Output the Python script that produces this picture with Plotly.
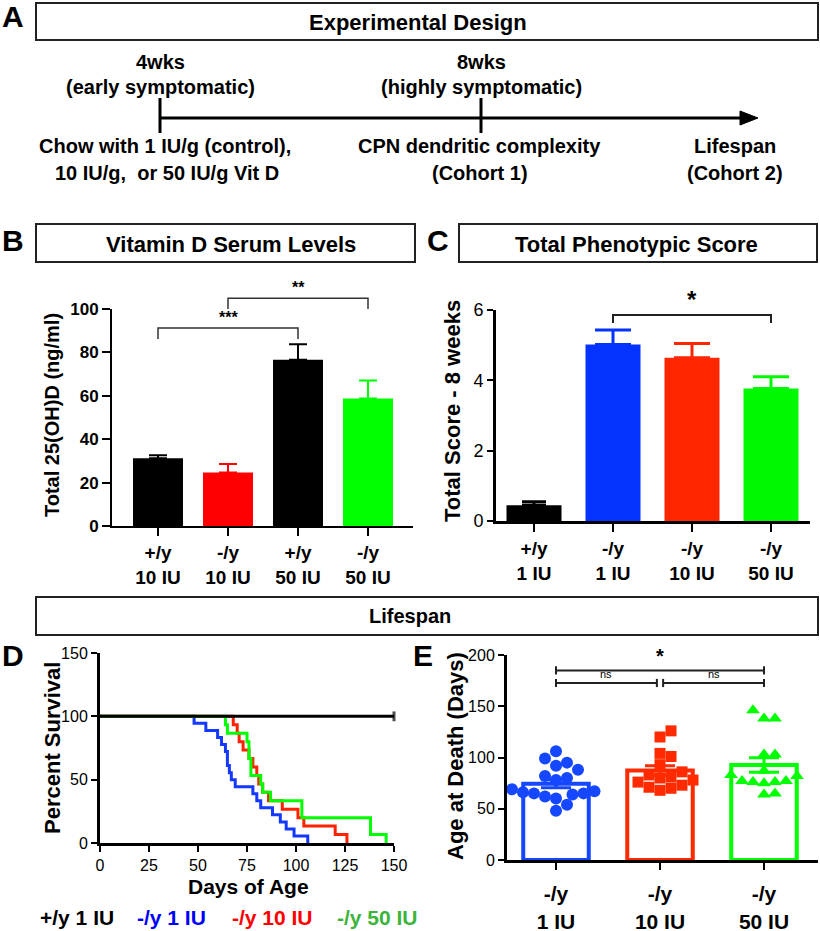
import numpy as np
import plotly.graph_objects as go

W, H = 820, 931
FONT = "Liberation Sans, Arial, Helvetica, sans-serif"

# ---------------- DATA ----------------
# Panel B: Vitamin D serum levels (mean, SEM)
vitd_labels = ["+/y<br>10 IU", "-/y<br>10 IU", "+/y<br>50 IU", "-/y<br>50 IU"]
vitd_mean = [31.2, 24.6, 76.6, 58.8]
vitd_sem = [1.4, 4.0, 7.1, 8.2]
vitd_colors = ["#000000", "#ff0000", "#000000", "#00ff00"]
vitd_ticks = [0, 20, 40, 60, 80, 100]

# Panel C: total phenotypic score at 8 weeks (mean, SEM)
score_labels = ["+/y<br>1 IU", "-/y<br>1 IU", "-/y<br>10 IU", "-/y<br>50 IU"]
score_mean = [0.45, 5.02, 4.64, 3.77]
score_sem = [0.10, 0.41, 0.41, 0.33]
score_colors = ["#000000", "#0433ff", "#ff2600", "#00f900"]
score_ticks = [0, 2, 4, 6]

# Panels D/E: age at death (days) per mouse
death_ko_1iu = [48, 54, 60, 62, 64, 65, 65, 66, 67, 69, 78, 80, 82, 88, 92, 95, 99, 106]
death_ko_10iu = [68, 70, 71, 73, 76, 78, 80, 81, 83, 86, 93, 101, 104, 120, 126]
death_ko_50iu = [64, 65, 75, 76, 76, 77, 77, 82, 83, 87, 103, 103, 138, 138, 146]
wt_1iu_followup = 150  # all +/y 1 IU mice alive at end of follow-up

surv_labels = ["+/y 1 IU", "-/y 1 IU", "-/y 10 IU", "-/y 50 IU"]
surv_colors = ["#000000", "#1438ff", "#ff2200", "#00ff00"]
surv_legend_colors = ["#000000", "#0000ff", "#ff0000", "#3cb43c"]
surv_xticks = [0, 25, 50, 75, 100, 125, 150]
surv_yticks = [0, 50, 100, 150]

age_labels = ["-/y<br>1 IU", "-/y<br>10 IU", "-/y<br>50 IU"]
age_colors = ["#1447ff", "#ff2a00", "#00ff00"]
age_symbols = ["circle", "square", "triangle-up"]
age_ticks = [0, 50, 100, 150, 200]


# ---------------- helpers ----------------
def xd(px):
    return px / W


def yd(py):
    return 1 - py / H


def km_curve(days):
    d = sorted(days)
    n = len(d)
    xs = [0] + d
    ys = [100.0] + [100.0 * (n - i - 1) / n for i in range(n)]
    return xs, ys


def swarm(vals, xpx, ypx, diam, step):
    vals = np.asarray(vals, float)
    order = np.argsort(vals, kind="stable")
    placed = []
    offs = np.zeros(len(vals))
    for idx in order:
        yv = vals[idx] * ypx
        cand = 0.0
        for k in range(60):
            cand = 0.0 if k == 0 else ((k + 1) // 2) * step * (1 if k % 2 else -1)
            if all((cand - a) ** 2 + (yv - b) ** 2 >= diam ** 2 for a, b in placed):
                break
        placed.append((cand, yv))
        offs[idx] = cand / xpx
    return offs


fig = go.Figure()
ann = []
shapes = []


def text(x, y, s, size, color="black", bold=True, angle=0, xanchor="center", yanchor="middle",
         xref="paper", yref="paper"):
    if xref == "paper":
        x = xd(x)
    if yref == "paper":
        y = yd(y)
    ann.append(dict(x=x, y=y, xref=xref, yref=yref, text=s, showarrow=False, textangle=angle,
                    xanchor=xanchor, yanchor=yanchor,
                    font=dict(family=FONT, size=size, color=color,
                              weight="bold" if bold else "normal")))


def box(x0, y0, x1, y1):
    shapes.append(dict(type="rect", xref="paper", yref="paper", x0=xd(x0), x1=xd(x1),
                       y0=yd(y1), y1=yd(y0), line=dict(color="#222", width=2)))


def pline(x0, y0, x1, y1, w=3):
    shapes.append(dict(type="line", xref="paper", yref="paper", x0=xd(x0), x1=xd(x1),
                       y0=yd(y0), y1=yd(y1), line=dict(color="black", width=w)))


# ---------------- Panel A ----------------
text(13, 16, "A", 30)
box(36, 3, 818, 40)
text(418, 22, "Experimental Design", 22)
pline(160, 118, 745, 118)
pline(160, 98, 160, 133)
pline(481, 98, 481, 133)
shapes.append(dict(type="path", xref="paper", yref="paper",
                   path=f"M {xd(740)},{yd(111)} L {xd(758)},{yd(118)} L {xd(740)},{yd(125)} Z",
                   fillcolor="black", line=dict(color="black", width=1)))
text(160, 62, "4wks", 20)
text(160, 87, "(early symptomatic)", 20)
text(481, 62, "8wks", 20)
text(481, 87, "(highly symptomatic)", 20)
text(165, 146, "Chow with 1 IU/g (control),", 20)
text(167, 173, "10 IU/g,\u00a0 or 50 IU/g Vit D", 20)
text(480, 146, "CPN dendritic complexity", 20)
text(480, 173, "(Cohort 1)", 20)
text(735, 146, "Lifespan", 20)
text(735, 173, "(Cohort 2)", 20)

# ---------------- Panel B ----------------
text(13, 241, "B", 30)
box(36, 224, 415, 262)
text(231, 245, "Vitamin D Serum Levels", 22)
for i in range(len(vitd_mean)):
    fig.add_trace(go.Bar(x=[i], y=[vitd_mean[i]], width=50 / 70, xaxis="x", yaxis="y",
                         marker=dict(color=vitd_colors[i], line=dict(width=0)),
                         error_y=dict(type="data", array=[vitd_sem[i]], arrayminus=[0],
                                      symmetric=False, color=vitd_colors[i], thickness=2, width=9),
                         showlegend=False, hoverinfo="skip"))
# significance brackets (B) on an invisible overlay subplot with identical scale
for (a, b, h, lab) in [(0, 2, 91.2, "***"), (1, 3, 105.0, "**")]:
    fig.add_trace(go.Scatter(x=[a, a, b, b], y=[h - 5, h, h, h - 5], mode="lines",
                             line=dict(color="#333", width=1.5), xaxis="x5", yaxis="y5",
                             showlegend=False, hoverinfo="skip"))
    text((a + b) / 2, h, lab, 16, xref="x5", yref="y5", yanchor="bottom")
text(52, 415, "Total 25(OH)D (ng/ml)", 20, angle=-90)

# ---------------- Panel C ----------------
text(438, 241, "C", 30)
box(459, 224, 817, 262)
text(636, 245, "Total Phenotypic Score", 22)
for i in range(len(score_mean)):
    fig.add_trace(go.Bar(x=[i], y=[score_mean[i]], width=55 / 79, xaxis="x2", yaxis="y2",
                         marker=dict(color=score_colors[i], line=dict(width=0)),
                         error_y=dict(type="data", array=[score_sem[i]], arrayminus=[0],
                                      symmetric=False, color=score_colors[i], thickness=3,
                                      width=18 if i else 12),
                         showlegend=False, hoverinfo="skip"))
fig.add_trace(go.Scatter(x=[1, 1, 3, 3], y=[5.63, 5.86, 5.86, 5.63], mode="lines",
                         line=dict(color="#222", width=2), xaxis="x2", yaxis="y2",
                         showlegend=False, hoverinfo="skip"))
text(2, 5.86, "*", 24, xref="x2", yref="y2", yanchor="bottom")
text(452, 411, "Total Score - 8 weeks", 22, angle=-90)

# ---------------- Lifespan box ----------------
box(36, 597, 818, 635)
text(410, 616, "Lifespan", 20)

# ---------------- Panel D ----------------
text(13, 655, "D", 30)
for days, col in zip([death_ko_1iu, death_ko_10iu, death_ko_50iu], surv_colors[1:]):
    xs, ys = km_curve(days)
    fig.add_trace(go.Scatter(x=xs, y=ys, mode="lines", line=dict(color=col, width=3, shape="hv"),
                             xaxis="x3", yaxis="y3", showlegend=False, hoverinfo="skip"))
fig.add_trace(go.Scatter(x=[0, wt_1iu_followup], y=[100, 100], mode="lines+markers",
                         line=dict(color=surv_colors[0], width=3),
                         marker=dict(symbol="line-ns-open", size=[0, 7],
                                     line=dict(color="black", width=3)),
                         cliponaxis=False, xaxis="x3", yaxis="y3", showlegend=False,
                         hoverinfo="skip"))
text(52, 748, "Percent Survival", 22, angle=-90)
text(248, 886, "Days of Age", 21)
for lab, col, cx in zip(surv_labels, surv_legend_colors, [77, 171, 272, 377]):
    text(cx, 917, lab, 21, color=col)

# ---------------- Panel E ----------------
text(423, 655, "E", 30)
age_data = [death_ko_1iu, death_ko_10iu, death_ko_50iu]
age_mean = [float(np.mean(d)) for d in age_data]
age_sem = [float(np.std(d, ddof=1) / np.sqrt(len(d))) for d in age_data]
fig.add_trace(go.Bar(x=[0, 1, 2], y=age_mean, width=0.63, xaxis="x4", yaxis="y4",
                     marker=dict(color="white", line=dict(color=age_colors, width=4)),
                     showlegend=False, hoverinfo="skip"))
for i, (d, col, sym) in enumerate(zip(age_data, age_colors, age_symbols)):
    offs = swarm(d, 104.0, 1.025, 11.0, 5.5)
    fig.add_trace(go.Scatter(x=i + offs, y=d, mode="markers", xaxis="x4", yaxis="y4",
                             marker=dict(symbol=sym, color=col, size=12 if sym != "square" else 11,
                                         line=dict(width=0)),
                             showlegend=False, hoverinfo="skip"))
    fig.add_trace(go.Scatter(x=[i], y=[age_mean[i]], mode="markers", xaxis="x4", yaxis="y4",
                             marker=dict(size=1, color=col),
                             error_y=dict(type="data", array=[age_sem[i]], color=col,
                                          thickness=3, width=15),
                             showlegend=False, hoverinfo="skip"))
for (a, b, h, lab, sz, bold) in [(0, 2, 185, "*", 20, True), (0, 0.97, 172.7, "ns", 11, False),
                                  (1.03, 2, 172.7, "ns", 11, False)]:
    fig.add_trace(go.Scatter(x=[a, a, None, a, b, None, b, b],
                             y=[h - 4, h + 4, None, h, h, None, h - 4, h + 4], mode="lines",
                             line=dict(color="#222", width=2), xaxis="x4", yaxis="y4",
                             showlegend=False, hoverinfo="skip"))
    text((a + b) / 2, h + 1, lab, sz, bold=bold, xref="x4", yref="y4", yanchor="bottom")
text(455, 756, "Age at Death (Days)", 22, angle=-90)


# ---------------- axes ----------------
def ax(domain, rng, lw, ticklen, tickvals=None, ticktext=None, size=16, bold=False,
       anchor=None, standoff=None, ticks="outside"):
    d = dict(domain=domain, range=rng, showline=True, linewidth=lw, linecolor="black",
             ticks=ticks, ticklen=ticklen, tickwidth=2, tickcolor="black", showgrid=False,
             zeroline=False, fixedrange=True, anchor=anchor, automargin=False,
             tickfont=dict(family=FONT, size=size, color="black",
                           weight="bold" if bold else "normal"))
    if tickvals is not None:
        d["tickmode"] = "array"
        d["tickvals"] = tickvals
    if ticktext is not None:
        d["ticktext"] = ticktext
    if standoff is not None:
        d["ticklabelstandoff"] = standoff
    return d


fig.update_layout(
    width=W, height=H, autosize=False, margin=dict(l=0, r=0, t=0, b=0, pad=0),
    paper_bgcolor="white", plot_bgcolor="rgba(0,0,0,0)", barmode="overlay",
    font=dict(family=FONT, color="black"),
    xaxis=ax([xd(112), xd(413)], [-(158 - 112) / 70, 3 + (413 - 368) / 70], 2, 8,
             list(range(4)), vitd_labels, 19, True, "y"),
    yaxis=ax([yd(526), yd(309)], [0, 100], 2, 8, vitd_ticks, None, 17, True, "x"),
    xaxis2=ax([xd(496), xd(810)], [-(534 - 496) / 79, 3 + (810 - 771) / 79], 3, 8,
              list(range(4)), score_labels, 19, True, "y2"),
    yaxis2=ax([yd(521), yd(310)], [0, 6], 3, 6, score_ticks, None, 18, False, "x2"),
    xaxis3=ax([xd(100), xd(394)], [0, 150], 3, 6, surv_xticks, None, 16, False, "y3"),
    yaxis3=ax([yd(843), yd(653)], [0, 150], 3, 6, surv_yticks, None, 16, False, "x3"),
    xaxis4=ax([xd(507), xd(818)], [-(556 - 507) / 104, 2 + (818 - 764) / 104], 3, 7,
              [0, 1, 2], age_labels, 21, True, "y4", standoff=6),
    yaxis4=ax([yd(860), yd(655)], [0, 200], 3, 6, age_ticks, None, 16, False, "x4"),
    xaxis5=dict(domain=[xd(112), xd(413)], range=[-(158 - 112) / 70, 3 + (413 - 368) / 70],
                visible=False, anchor="y5", fixedrange=True, automargin=False),
    yaxis5=dict(domain=[yd(526), yd(280)], range=[0, 100 * (526 - 280) / (526 - 309)],
                visible=False, anchor="x5", fixedrange=True, automargin=False),
    annotations=ann, shapes=shapes,
)

fig.write_html("out.html", config={"displayModeBar": False},
               post_script="document.body.style.margin='0';document.body.style.overflow='hidden';")
